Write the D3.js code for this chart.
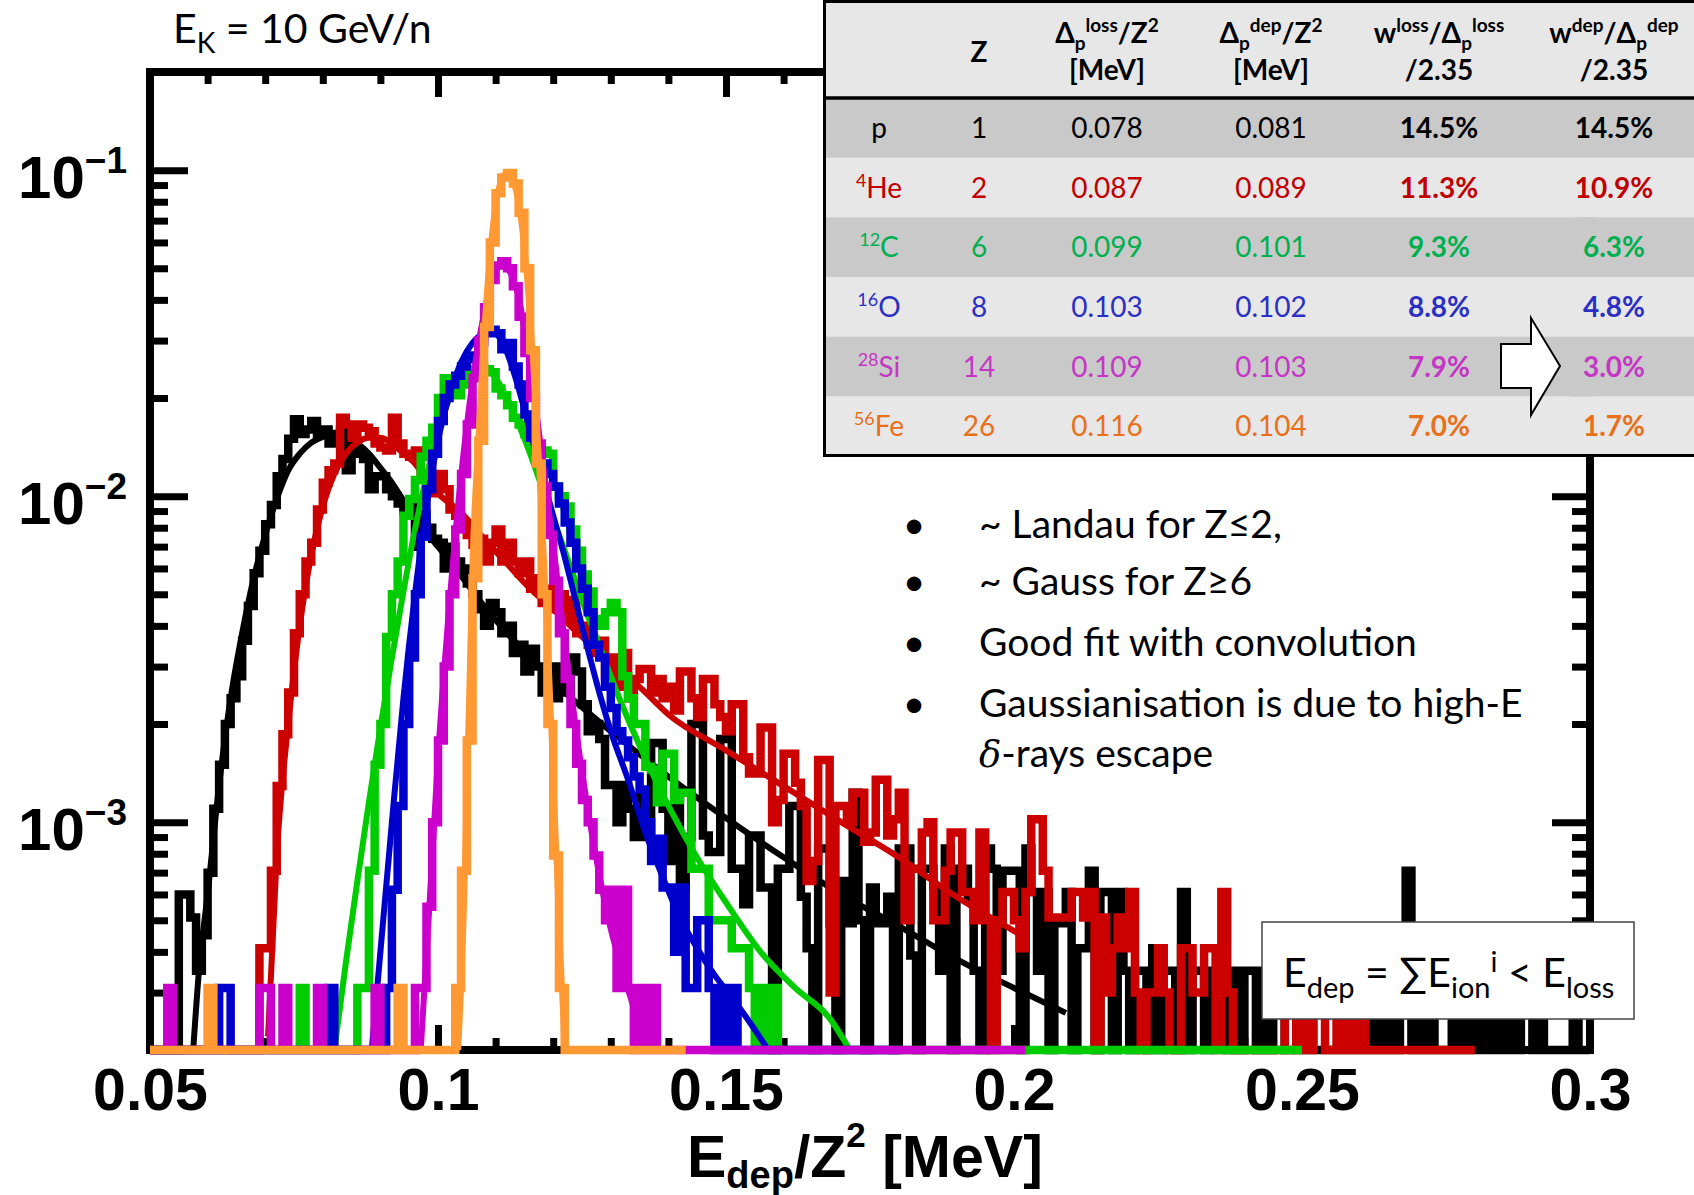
<!DOCTYPE html>
<html><head><meta charset="utf-8">
<script src="https://cdn.jsdelivr.net/npm/d3@7"></script>
<style>
html,body{margin:0;padding:0;background:#fff;}
svg{display:block;}
</style></head>
<body><svg id="chart" width="1694" height="1195"></svg>
<script>
// ---------------- DATA ----------------
const binStart = 0.05, binWidth = 0.001;

// p (black)  0.050 .. 0.300
const histP = [
0,0,0,0,0,6.0e-4,6.0e-4,5.1e-4,3.5e-4,4.5e-4,
7.0e-4,1.1e-3,1.5e-3,2.0e-3,2.4e-3,2.8e-3,3.6e-3,4.6e-3,5.8e-3,6.8e-3,
8.2e-3,9.4e-3,1.15e-2,1.3e-2,1.5e-2,1.72e-2,1.55e-2,1.6e-2,1.7e-2,1.55e-2,
1.6e-2,1.45e-2,1.55e-2,1.6e-2,1.2e-2,1.45e-2,1.35e-2,1.3e-2,1.05e-2,1.15e-2,
1.15e-2,1.05e-2,1.0e-2,9.5e-3,9.0e-3,9.4e-3,7.0e-3,8.8e-3,8.0e-3,7.4e-3,
7.2e-3,6.0e-3,7.0e-3,6.3e-3,6.0e-3,5.4e-3,5.0e-3,4.5e-3,4.0e-3,4.7e-3,
4.4e-3,3.8e-3,4.0e-3,3.3e-3,3.5e-3,2.9e-3,3.4e-3,3.0e-3,2.5e-3,3.0e-3,
2.4e-3,3.0e-3,2.5e-3,3.2e-3,2.9e-3,2.3e-3,1.9e-3,2.0e-3,1.8e-3,1.3e-3,
1.3e-3,1.0e-3,1.3e-3,1.1e-3,9.0e-4,1.2e-3,9.0e-4,1.75e-3,1.75e-3,1.1e-3,
7.6e-4,1.25e-3,6.3e-4,9.0e-4,2.0e-3,2.0e-3,9.1e-4,8.1e-4,8.1e-4,1.8e-3,
1.8e-3,7.2e-4,7.2e-4,5.6e-4,9.1e-4,9.1e-4,6.3e-4,6.3e-4,0,7.2e-4,
7.2e-4,1.12e-3,1.12e-3,5.9e-4,4.1e-4,0,8.3e-4,8.3e-4,4.9e-4,0,
6.6e-4,4.9e-4,1.23e-3,5.0e-4,0,6.3e-4,4.9e-4,4.9e-4,5.9e-4,0,
8.3e-4,8.3e-4,3.9e-4,0,7.2e-4,7.2e-4,6.3e-4,3.5e-4,8.3e-4,0,
7.2e-4,7.2e-4,5.9e-4,3.5e-4,0,8.3e-4,7.2e-4,3.5e-4,7.1e-4,7.1e-4,
7.1e-4,0,8.3e-4,6.1e-4,3.5e-4,6.1e-4,0,4.9e-4,4.9e-4,6.1e-4,
0,4.1e-4,4.1e-4,7.1e-4,0,6.1e-4,6.1e-4,0,6.1e-4,3.5e-4,
0,3.5e-4,3.5e-4,0,4.1e-4,0,3.5e-4,3.5e-4,0,6.1e-4,
0,3.5e-4,3.5e-4,0,3.5e-4,3.5e-4,3.5e-4,0,3.5e-4,0,
3.5e-4,3.5e-4,0,3.5e-4,0,3.5e-4,3.5e-4,0,0,0,
0,0,0,0,0,0,0,0,0,0,
0,3.5e-4,0,3.5e-4,0,3.5e-4,0,3.5e-4,7.1e-4,0,
3.5e-4,0,3.5e-4,0,0,0,3.5e-4,0,3.5e-4,0,
3.5e-4,0,3.5e-4,0,3.5e-4,0,3.5e-4,0,3.5e-4,3.5e-4,
0,3.5e-4,0,0,0,0,0,3.5e-4,0,0];

// 4He (red)  0.050 .. 0.280
const histHe = [
0,0,0,0,0,0,0,0,0,0,
0,0,0,0,0,0,0,0,0,4.1e-4,
4.1e-4,7.1e-4,1.29e-3,1.86e-3,2.5e-3,3.8e-3,5.0e-3,6.3e-3,7.2e-3,9.1e-3,
1.1e-2,1.2e-2,1.26e-2,1.74e-2,1.66e-2,1.51e-2,1.66e-2,1.62e-2,1.58e-2,1.45e-2,
1.41e-2,1.38e-2,1.74e-2,1.45e-2,1.35e-2,1.32e-2,1.38e-2,1.15e-2,1.12e-2,1.02e-2,
1.17e-2,1.05e-2,9.1e-3,8.7e-3,8.1e-3,7.6e-3,7.1e-3,7.4e-3,6.3e-3,7.2e-3,
7.9e-3,6.3e-3,7.2e-3,6.3e-3,5.8e-3,6.3e-3,5.2e-3,5.6e-3,4.7e-3,5.2e-3,
4.5e-3,5.0e-3,4.2e-3,4.8e-3,3.8e-3,4.0e-3,3.5e-3,3.3e-3,3.6e-3,2.8e-3,
3.2e-3,2.6e-3,3.3e-3,2.4e-3,2.75e-3,2.95e-3,2.95e-3,2.5e-3,2.75e-3,2.4e-3,
2.6e-3,2.2e-3,2.9e-3,2.9e-3,2.4e-3,2.1e-3,2.75e-3,2.75e-3,2.3e-3,2.1e-3,
1.9e-3,2.3e-3,2.3e-3,1.58e-3,1.41e-3,1.41e-3,1.95e-3,1.95e-3,1.0e-3,1.17e-3,
1.62e-3,1.62e-3,1.32e-3,1.12e-3,6.6e-4,7.6e-4,1.55e-3,1.55e-3,3.0e-4,1.12e-3,
1.12e-3,1.0e-3,1.23e-3,1.23e-3,8.7e-4,9.3e-4,1.35e-3,1.35e-3,9.1e-4,1.02e-3,
1.23e-3,5.0e-4,7.2e-4,7.2e-4,9.3e-4,1.0e-3,5.0e-4,5.0e-4,7.1e-4,9.3e-4,
9.3e-4,6.1e-4,6.1e-4,5.0e-4,9.3e-4,5.0e-4,0,5.0e-4,6.1e-4,6.1e-4,
5.0e-4,4.1e-4,6.1e-4,1.02e-3,1.02e-3,7.1e-4,5.1e-4,5.1e-4,5.1e-4,5.1e-4,
6.1e-4,6.1e-4,5.1e-4,6.1e-4,0,5.1e-4,3.0e-4,4.1e-4,5.1e-4,4.1e-4,
6.1e-4,3.0e-4,0,3.0e-4,3.0e-4,4.1e-4,3.0e-4,0,0,4.1e-4,
4.1e-4,3.0e-4,3.0e-4,4.1e-4,4.1e-4,0,6.1e-4,3.0e-4,0,0,
0,0,0,0,0,0,0,3.0e-4,3.0e-4,0,
3.0e-4,0,3.0e-4,3.0e-4,0,0,3.0e-4,0,3.0e-4,0,
3.0e-4,0,0,0,0,0,0,0,0,0,
0,0,0,0,0,0,0,0,0,0];

// 12C (green)  0.050 .. 0.250
const histC = [
0,0,0,0,0,0,0,0,0,0,
0,0,0,0,0,0,0,0,0,0,
0,0,0,0,0,0,3.1e-4,0,0,0,
0,0,0,0,0,0,3.1e-4,3.1e-4,7.1e-4,1.5e-3,
2.0e-3,3.7e-3,5.0e-3,6.3e-3,8.7e-3,9.8e-3,1.12e-2,1.32e-2,1.48e-2,1.62e-2,
2.0e-2,2.3e-2,2.2e-2,2.04e-2,2.2e-2,2.3e-2,2.45e-2,2.5e-2,2.45e-2,2.4e-2,
2.14e-2,2.04e-2,1.9e-2,1.74e-2,1.66e-2,1.55e-2,1.45e-2,1.41e-2,1.38e-2,1.35e-2,
1.07e-2,1.0e-2,9.3e-3,7.9e-3,6.8e-3,5.75e-3,5.1e-3,4.2e-3,4.0e-3,4.4e-3,
4.7e-3,4.4e-3,2.8e-3,2.4e-3,2.0e-3,2.0e-3,1.48e-3,1.45e-3,1.15e-3,1.62e-3,
1.62e-3,1.17e-3,1.23e-3,1.23e-3,7.2e-4,7.2e-4,7.2e-4,5.0e-4,5.0e-4,5.0e-4,
5.0e-4,4.1e-4,4.1e-4,4.1e-4,3.1e-4,0,3.1e-4,0,3.1e-4,0,
0,0,0,0,0,0,0,0,0,0,
0,0,0,0,0,0,0,0,0,0,
0,0,0,0,0,0,0,0,0,0,
0,0,0,0,0,0,0,0,0,0,
0,0,0,0,0,0,0,0,0,0,
0,0,0,0,0,0,0,0,0,0,
0,0,0,0,0,0,0,0,0,0,
0,0,0,0,0,0,0,0,0,0,
0,0,0,0,0,0,0,0,0,0];

// 16O (blue)  0.050 .. 0.180
const histO = [
0,0,0,0,0,0,0,0,0,0,
0,0,3.1e-4,3.1e-4,0,0,0,0,0,0,
0,0,0,0,0,0,0,0,0,0,
0,3.1e-4,0,0,0,0,0,0,0,0,
0,3.1e-4,6.2e-4,1.12e-3,2.0e-3,3.2e-3,5.0e-3,7.5e-3,1.05e-2,1.35e-2,
1.7e-2,2.0e-2,2.2e-2,2.34e-2,2.5e-2,2.63e-2,2.7e-2,2.95e-2,3.16e-2,3.24e-2,
3.16e-2,2.82e-2,2.95e-2,2.5e-2,2.2e-2,1.78e-2,1.51e-2,1.38e-2,1.26e-2,1.17e-2,
1.07e-2,9.5e-3,8.3e-3,7.2e-3,6.0e-3,5.2e-3,4.4e-3,3.5e-3,3.2e-3,2.6e-3,
2.24e-3,1.9e-3,1.78e-3,1.58e-3,1.38e-3,1.26e-3,1.0e-3,7.6e-4,8.9e-4,6.3e-4,
6.3e-4,4.0e-4,6.3e-4,3.1e-4,3.1e-4,5.0e-4,5.0e-4,3.1e-4,0,3.1e-4,
0,3.1e-4,0,0,0,0,0,0,0,0,
0,0,0,0,0,0,0,0,0,0,
0,0,0,0,0,0,0,0,0,0];

// 28Si (magenta)  0.050 .. 0.202
const histSi = [
0,0,0,3.1e-4,0,0,0,0,0,0,
0,0,0,0,0,0,0,0,0,3.1e-4,
3.1e-4,0,0,3.1e-4,0,0,0,0,0,3.1e-4,
0,0,0,0,0,0,0,0,0,3.1e-4,
0,0,0,0,0,0,3.1e-4,3.1e-4,5.5e-4,1.0e-3,
1.78e-3,3.0e-3,5.0e-3,7.9e-3,1.17e-2,1.66e-2,2.3e-2,3.0e-2,3.8e-2,4.6e-2,
5.1e-2,5.25e-2,5.0e-2,4.4e-2,3.55e-2,2.75e-2,2.0e-2,1.45e-2,1.07e-2,7.6e-3,
5.5e-3,3.8e-3,2.75e-3,2.0e-3,1.51e-3,1.17e-3,1.0e-3,7.9e-4,6.2e-4,5.0e-4,
6.2e-4,3.1e-4,6.2e-4,3.1e-4,0,3.1e-4,0,3.1e-4,0,0,
0,0,0,0,0,0,0,0,0,0,
0,0,0,0,0,0,0,0,0,0,
0,0,0,0,0,0,0,0,0,0,
0,0,0,0,0,0,0,0,0,0,
0,0,0,0,0,0,0,0,0,0,
0,0,0,0,0,0,0,0,0,0,
0,0];

// 56Fe (orange)  0.050 .. 0.143
const histFe = [
0,0,0,0,0,0,0,0,0,0,
3.1e-4,0,0,0,0,0,0,0,0,0,
0,0,0,0,0,0,0,0,0,0,
0,0,0,0,0,0,0,0,0,0,
0,0,0,3.1e-4,0,0,0,0,0,0,
0,0,0,3.1e-4,7.1e-4,1.78e-3,5.6e-3,1.48e-2,3.3e-2,6.0e-2,
8.5e-2,9.5e-2,9.8e-2,9.1e-2,7.4e-2,5.0e-2,2.8e-2,1.26e-2,5.0e-3,2.0e-3,
7.9e-4,3.1e-4,0,0,0,0,0,0,0,0,
0,0,0,0,0,0,0,0,0,0,
0,0,0];

// fitted curves: [E_dep/Z^2, value]
const fitP = [[0.0575,2.0e-4],[0.0585,3.5e-4],[0.060,6.0e-4],[0.062,1.3e-3],[0.064,2.4e-3],[0.066,3.8e-3],[0.068,5.6e-3],[0.070,7.6e-3],[0.072,9.8e-3],[0.074,1.2e-2],[0.076,1.35e-2],[0.078,1.46e-2],[0.080,1.52e-2],[0.082,1.55e-2],[0.084,1.52e-2],[0.086,1.45e-2],[0.088,1.35e-2],[0.090,1.22e-2],[0.092,1.1e-2],[0.094,9.7e-3],[0.096,8.6e-3],[0.098,7.7e-3],[0.100,7.0e-3],[0.104,5.7e-3],[0.108,4.6e-3],[0.112,3.8e-3],[0.116,3.2e-3],[0.120,2.7e-3],[0.125,2.25e-3],[0.130,1.9e-3],[0.140,1.38e-3],[0.150,1.03e-3],[0.160,7.8e-4],[0.170,6.0e-4],[0.180,4.8e-4],[0.190,3.8e-4],[0.200,3.1e-4],[0.209,2.6e-4]];
const fitHe = [[0.0705,2.2e-4],[0.072,7.9e-4],[0.074,2.0e-3],[0.076,4.0e-3],[0.078,6.6e-3],[0.080,9.3e-3],[0.082,1.17e-2],[0.084,1.35e-2],[0.086,1.46e-2],[0.088,1.51e-2],[0.090,1.51e-2],[0.092,1.45e-2],[0.094,1.35e-2],[0.096,1.26e-2],[0.098,1.12e-2],[0.100,1.02e-2],[0.104,8.9e-3],[0.108,7.4e-3],[0.112,6.2e-3],[0.116,5.2e-3],[0.120,4.5e-3],[0.125,3.7e-3],[0.130,3.1e-3],[0.135,2.6e-3],[0.140,2.14e-3],[0.150,1.66e-3],[0.160,1.29e-3],[0.170,1.0e-3],[0.180,7.8e-4],[0.190,5.9e-4],[0.2013,4.5e-4]];
const fitC = [[0.082,2.0e-4],[0.084,3.7e-4],[0.086,6.6e-4],[0.088,1.15e-3],[0.090,1.95e-3],[0.092,3.2e-3],[0.094,5.1e-3],[0.096,7.9e-3],[0.098,1.15e-2],[0.100,1.58e-2],[0.102,2.0e-2],[0.104,2.3e-2],[0.106,2.45e-2],[0.108,2.48e-2],[0.110,2.3e-2],[0.112,2.0e-2],[0.114,1.66e-2],[0.116,1.35e-2],[0.118,1.07e-2],[0.120,8.5e-3],[0.122,6.8e-3],[0.124,5.4e-3],[0.126,4.3e-3],[0.128,3.5e-3],[0.130,2.8e-3],[0.1369,1.45e-3],[0.1444,8.1e-4],[0.1502,5.6e-4],[0.156,4.0e-4],[0.162,3.1e-4],[0.168,2.5e-4],[0.1715,2.0e-4]];
const fitO = [[0.0885,2.0e-4],[0.090,4.0e-4],[0.092,1.0e-3],[0.094,2.4e-3],[0.096,5.0e-3],[0.098,9.3e-3],[0.100,1.48e-2],[0.102,2.04e-2],[0.104,2.57e-2],[0.106,2.95e-2],[0.108,3.16e-2],[0.109,3.2e-2],[0.110,3.16e-2],[0.112,2.75e-2],[0.114,2.14e-2],[0.116,1.58e-2],[0.118,1.17e-2],[0.120,8.7e-3],[0.122,6.5e-3],[0.124,4.7e-3],[0.126,3.4e-3],[0.128,2.5e-3],[0.130,1.9e-3],[0.133,1.35e-3],[0.136,9.3e-4],[0.139,6.8e-4],[0.142,5.1e-4],[0.145,4.1e-4],[0.148,3.4e-4],[0.151,2.9e-4],[0.154,2.45e-4],[0.157,2.04e-4]];
const fitSi = [[0.097,2.0e-4],[0.0985,5.5e-4],[0.100,1.58e-3],[0.102,4.7e-3],[0.104,1.15e-2],[0.106,2.24e-2],[0.108,3.63e-2],[0.110,4.9e-2],[0.111,5.1e-2],[0.112,5.0e-2],[0.114,4.07e-2],[0.116,2.5e-2],[0.118,1.35e-2],[0.120,7.1e-3],[0.122,3.6e-3],[0.124,1.9e-3],[0.126,1.1e-3],[0.128,6.9e-4],[0.130,4.7e-4],[0.132,3.5e-4],[0.134,2.7e-4],[0.137,2.0e-4]];
const fitFe = [[0.1035,2.0e-4],[0.1045,5.5e-4],[0.105,1.26e-3],[0.1055,2.8e-3],[0.106,6.3e-3],[0.107,1.48e-2],[0.108,3.16e-2],[0.109,5.4e-2],[0.110,7.8e-2],[0.111,9.3e-2],[0.112,9.8e-2],[0.113,9.3e-2],[0.114,7.9e-2],[0.115,5.75e-2],[0.116,3.55e-2],[0.117,1.9e-2],[0.118,8.9e-3],[0.119,3.8e-3],[0.120,1.41e-3],[0.121,5.0e-4],[0.122,2.0e-4]];

const seriesColors = ["#000000","#cc0000","#00cc00","#0000cc","#cc00cc","#ff9933"];

// axes
const xMajorTicks = [0.05,0.1,0.15,0.2,0.25,0.3];
const xTickLabels = ["0.05","0.1","0.15","0.2","0.25","0.3"];
const yMajorTicks = [1e-3,1e-2,1e-1];
const yTickExponents = ["\u22123","\u22122","\u22121"];

// table
const tableIsotopeMass = ["","4","12","16","28","56"];
const tableIsotopeName = ["p","He","C","O","Si","Fe"];
const tableZ = ["1","2","6","8","14","26"];
const tableLossPeak = ["0.078","0.087","0.099","0.103","0.109","0.116"];
const tableDepPeak = ["0.081","0.089","0.101","0.102","0.103","0.104"];
const tableLossWidth = ["14.5%","11.3%","9.3%","8.8%","7.9%","7.0%"];
const tableDepWidth = ["14.5%","10.9%","6.3%","4.8%","3.0%","1.7%"];
const tableColors = ["#000000","#c00000","#00b050","#2b2fc4","#c437c4","#e8701a"];

const bulletLines = ["~ Landau for Z\u22642,","~ Gauss for Z\u22656","Good fit with convolution","Gaussianisation is due to high-E"];
const bulletContinuation = "-rays escape";

// ---------------- DRAWING ----------------
const svg = d3.select("#chart");
const SANS = "Lato, 'Open Sans', sans-serif";
const ROOTF = "'Liberation Sans', Arial, Helvetica, sans-serif";

const x = d3.scaleLinear().domain([0.05,0.3]).range([150,1590]);
const y = d3.scaleLog().domain([2e-4,0.2]).range([1050,72]);

svg.append("rect").attr("width",1694).attr("height",1195).attr("fill","#fff");

svg.append("defs").append("clipPath").attr("id","plotclip")
  .append("rect").attr("x",146).attr("y",68).attr("width",1448).attr("height",987);

// frame
svg.append("rect").attr("x",150).attr("y",72).attr("width",1440).attr("height",978)
  .attr("fill","none").attr("stroke","#000").attr("stroke-width",8);

function styleAxis(g){
  g.select(".domain").remove();
  g.selectAll(".tick line").attr("stroke","#000").attr("stroke-width",7);
}
const xMinor = x.ticks(25).filter(t => !xMajorTicks.some(m => Math.abs(m-t)<1e-9));
const yMinor = y.ticks().filter(t => !yMajorTicks.some(m => Math.abs(m-t)/m<1e-6) && t>2.5e-4 && t<0.19);

const gx = svg.append("g").attr("transform","translate(0,1050)")
  .call(d3.axisBottom(x).tickValues(xMajorTicks).tickSize(-25).tickPadding(18).tickFormat((d,i)=>xTickLabels[i]))
  .call(styleAxis);
gx.selectAll("text").attr("font-family",ROOTF).attr("font-weight","bold").attr("font-size",59).attr("fill","#000");
svg.append("g").attr("transform","translate(0,1050)")
  .call(d3.axisBottom(x).tickValues(xMinor).tickSize(-12).tickFormat("")).call(styleAxis);
svg.append("g").attr("transform","translate(0,72)")
  .call(d3.axisTop(x).tickValues(xMajorTicks).tickSize(-25).tickFormat("")).call(styleAxis);
svg.append("g").attr("transform","translate(0,72)")
  .call(d3.axisTop(x).tickValues(xMinor).tickSize(-12).tickFormat("")).call(styleAxis);
svg.append("g").attr("transform","translate(150,0)")
  .call(d3.axisLeft(y).tickValues(yMajorTicks).tickSize(-38).tickFormat("")).call(styleAxis);
svg.append("g").attr("transform","translate(150,0)")
  .call(d3.axisLeft(y).tickValues(yMinor).tickSize(-18).tickFormat("")).call(styleAxis);
svg.append("g").attr("transform","translate(1590,0)")
  .call(d3.axisRight(y).tickValues(yMajorTicks).tickSize(-38).tickFormat("")).call(styleAxis);
svg.append("g").attr("transform","translate(1590,0)")
  .call(d3.axisRight(y).tickValues(yMinor).tickSize(-18).tickFormat("")).call(styleAxis);

// y tick labels 10^n
yMajorTicks.forEach((t,i)=>{
  const tx = svg.append("text").attr("x",127).attr("y",y(t)+28)
    .attr("text-anchor","end").attr("font-family",ROOTF).attr("font-weight","bold").attr("fill","#000");
  tx.append("tspan").attr("font-size",60).text("10");
  tx.append("tspan").attr("font-size",37).attr("dy",-25).text(yTickExponents[i]);
});

// x title
const xt = svg.append("text").attr("x",687).attr("y",1177)
  .attr("font-family",ROOTF).attr("font-weight","bold").attr("font-size",59).attr("fill","#000");
xt.append("tspan").text("E");
xt.append("tspan").attr("font-size",38).attr("dy",11).text("dep");
xt.append("tspan").attr("dy",-11).text("/Z");
xt.append("tspan").attr("font-size",35).attr("dy",-30).text("2");
xt.append("tspan").attr("dy",30).text(" [MeV]");

// histograms + fits
const yc = v => (v >= 2e-4 ? y(v) : y(2e-4));
const stepLine = d3.line().x(d=>x(d[0])).y(d=>yc(d[1])).curve(d3.curveStepAfter);
const fitLine = d3.line().x(d=>x(d[0])).y(d=>yc(d[1])).curve(d3.curveMonotoneX);
const plotG = svg.append("g").attr("clip-path","url(#plotclip)");
const allHists = [histP,histHe,histC,histO,histSi,histFe];
const allFits = [fitP,fitHe,fitC,fitO,fitSi,fitFe];
allHists.forEach((h,k)=>{
  const pts = h.map((v,i)=>[binStart+i*binWidth, v]);
  pts.push([binStart+h.length*binWidth, h[h.length-1]]);
  plotG.append("path").attr("d",stepLine(pts)).attr("fill","none")
    .attr("stroke",seriesColors[k]).attr("stroke-width",8.5).attr("stroke-linejoin","miter");
  plotG.append("path").attr("d",fitLine(allFits[k])).attr("fill","none")
    .attr("stroke",seriesColors[k]).attr("stroke-width",6).attr("stroke-linejoin","round");
});

// E_K label
const ek = svg.append("text").attr("x",173).attr("y",43).attr("font-family",SANS).attr("font-size",41).attr("fill","#000");
ek.append("tspan").text("E");
ek.append("tspan").attr("font-size",28).attr("dy",10).text("K");
ek.append("tspan").attr("dy",-10).text(" = 10 GeV/n");

// ---------------- TABLE ----------------
const T = svg.append("g");
const tX0 = 823, tX1 = 1694, headBottom = 98, rowH = (456-98)/6;
T.append("rect").attr("x",tX0).attr("y",1).attr("width",tX1-tX0).attr("height",headBottom-1).attr("fill","#e7e7e7");
tableZ.forEach((z,i)=>{
  T.append("rect").attr("x",tX0).attr("y",headBottom+i*rowH).attr("width",tX1-tX0).attr("height",rowH+0.5)
    .attr("fill", i%2===0 ? "#c9c9c9" : "#e7e7e7");
});
T.append("path").attr("d",`M${tX1},1.5H${tX0+1.5}V455.5H${tX1}`).attr("fill","none").attr("stroke","#000").attr("stroke-width",3);
T.append("line").attr("x1",tX0).attr("x2",tX1).attr("y1",headBottom).attr("y2",headBottom).attr("stroke","#000").attr("stroke-width",3.5);

const colX = [879,979,1107,1271,1439,1614];
function headText(cx, yb, parts){
  const t = T.append("text").attr("x",cx).attr("y",yb).attr("text-anchor","middle")
    .attr("font-family",SANS).attr("font-weight","bold").attr("font-size",28).attr("fill","#000");
  parts.forEach(p=>{ const s=t.append("tspan").text(p[0]); if(p[1]) s.attr("font-size",p[1]); if(p[2]) s.attr("dy",p[2]); });
}
headText(colX[1],62,[["Z"]]);
headText(colX[2],43,[["\u0394"],["p",19,7],["loss",19,-18],["/Z",28,11],["2",19,-11]]);
headText(colX[2],80,[["[MeV]"]]);
headText(colX[3],43,[["\u0394"],["p",19,7],["dep",19,-18],["/Z",28,11],["2",19,-11]]);
headText(colX[3],80,[["[MeV]"]]);
headText(colX[4],43,[["w"],["loss",19,-11],["/\u0394",28,11],["p",19,7],["loss",19,-18]]);
headText(colX[4],80,[["/2.35"]]);
headText(colX[5],43,[["w"],["dep",19,-11],["/\u0394",28,11],["p",19,7],["dep",19,-18]]);
headText(colX[5],80,[["/2.35"]]);

tableZ.forEach((z,i)=>{
  const yb = headBottom + i*rowH + rowH/2 + 10;
  const col = tableColors[i];
  const lab = T.append("text").attr("x",colX[0]).attr("y",yb).attr("text-anchor","middle")
    .attr("font-family",SANS).attr("font-size",28).attr("fill",col);
  if (tableIsotopeMass[i]) { lab.append("tspan").attr("font-size",18).attr("dy",-11).text(tableIsotopeMass[i]);
    lab.append("tspan").attr("dy",11).text(tableIsotopeName[i]); }
  else lab.append("tspan").text(tableIsotopeName[i]);
  [[tableZ[i],1,"normal"],[tableLossPeak[i],2,"normal"],[tableDepPeak[i],3,"normal"],[tableLossWidth[i],4,"bold"],[tableDepWidth[i],5,"bold"]]
   .forEach(c=>{
     T.append("text").attr("x",colX[c[1]]).attr("y",yb).attr("text-anchor","middle")
      .attr("font-family",SANS).attr("font-size",28).attr("font-weight",c[2]).attr("fill",col).text(c[0]);
   });
});
// arrow
T.append("polygon").attr("points","1501,344 1531,344 1531,318 1560,366 1531,415 1531,388 1501,388")
  .attr("fill","#fff").attr("stroke","#000").attr("stroke-width",2);

// ---------------- BULLETS ----------------
const bulletY = [538,595,656,717];
bulletLines.forEach((s,i)=>{
  svg.append("text").attr("x",914).attr("y",bulletY[i]).attr("text-anchor","middle")
    .attr("font-family",SANS).attr("font-size",39).attr("fill","#000").text("\u2022");
  svg.append("text").attr("x",979).attr("y",bulletY[i])
    .attr("font-family",SANS).attr("font-size",39).attr("fill","#000").text(s);
});
const dl = svg.append("text").attr("x",979).attr("y",767).attr("font-family",SANS).attr("font-size",39).attr("fill","#000");
dl.append("tspan").attr("font-family","'DejaVu Serif', serif").attr("font-style","italic").attr("font-size",37).text("\u03b4");
dl.append("tspan").text(bulletContinuation);

// ---------------- BOX ----------------
svg.append("rect").attr("x",1262).attr("y",922).attr("width",372).attr("height",97)
  .attr("fill","#fff").attr("stroke","#444").attr("stroke-width",1.5);
const bx = svg.append("text").attr("x",1283).attr("y",987).attr("font-family",SANS).attr("font-size",41).attr("fill","#000");
bx.append("tspan").text("E");
bx.append("tspan").attr("font-size",29).attr("dy",11).text("dep");
bx.append("tspan").attr("dy",-11).text(" = \u2211E");
bx.append("tspan").attr("font-size",29).attr("dy",11).text("ion");
bx.append("tspan").attr("font-size",29).attr("dy",-26).text("i");
bx.append("tspan").attr("dy",15).text(" < E");
bx.append("tspan").attr("font-size",29).attr("dy",11).text("loss");
</script>
</body></html>
